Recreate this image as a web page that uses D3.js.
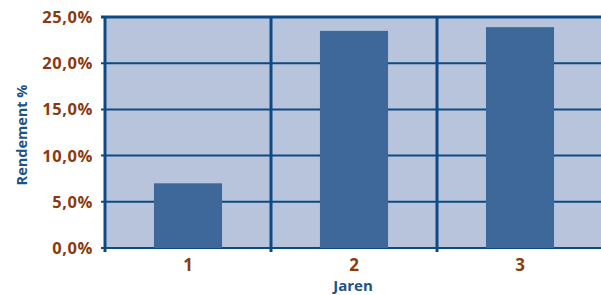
<!DOCTYPE html>
<html>
<head>
<meta charset="utf-8">
<script src="https://cdn.jsdelivr.net/npm/d3@7"></script>
<style>
body { margin: 0; background: #fff; }
svg { display: block; }
text { font-family: "Open Sans", sans-serif; font-weight: bold; }
</style>
</head>
<body>
<script>
var categories = ['1', '2', '3'];
var values = [7.0, 23.5, 23.9];
var yTicks = [0, 5, 10, 15, 20, 25];

var width = 601, height = 295;
var margin = {top: 17, right: -2, bottom: 47, left: 105};
var plotW = width - margin.left - margin.right;
var plotH = height - margin.top - margin.bottom;

var svg = d3.select('body').append('svg')
	.attr('width', width)
	.attr('height', height);

var x = d3.scaleBand().domain(categories).range([0, plotW]).padding(0);
var y = d3.scaleLinear().domain([0, 25]).range([plotH, 0]);

var lineColor = '#0d4a85';
var g = svg.append('g').attr('transform', 'translate(' + margin.left + ',' + margin.top + ')');

// plot background
g.append('rect')
	.attr('x', 0).attr('y', 0)
	.attr('width', plotW).attr('height', plotH)
	.style('fill', '#b8c4dc');

// horizontal grid
g.selectAll('.hgrid').data(yTicks).enter().append('line')
	.attr('x1', -4).attr('x2', plotW)
	.attr('y1', function(d){ return y(d); })
	.attr('y2', function(d){ return y(d); })
	.attr('stroke', lineColor)
	.attr('stroke-width', function(d){ return d == 25 ? 3 : 2; });

// bars
var barW = x.bandwidth() * 0.41;
g.selectAll('.bar').data(values).enter().append('rect')
	.attr('x', function(d, i){ return x(categories[i]) + (x.bandwidth() - barW)/2; })
	.attr('y', function(d){ return y(d); })
	.attr('width', barW)
	.attr('height', function(d){ return y(0) - y(d); })
	.style('fill', '#3d6899');

// vertical separators + left axis
var seps = [0].concat(categories.slice(1).map(function(c){ return x(c); }));
g.selectAll('.vsep').data(seps).enter().append('line')
	.attr('x1', function(d){ return d; })
	.attr('x2', function(d){ return d; })
	.attr('y1', 0).attr('y2', plotH + 4)
	.attr('stroke', lineColor)
	.attr('stroke-width', 3);

// y tick labels
g.selectAll('.ylab').data(yTicks).enter().append('text')
	.attr('x', -12)
	.attr('y', function(d){ return y(d); })
	.attr('dy', '0.36em')
	.attr('text-anchor', 'end')
	.style('fill', '#8b3a0f')
	.style('font-size', '16.5px')
	.style('letter-spacing', '0.6px')
	.text(function(d){ return d.toFixed(1).replace('.', ',') + '%'; });

// x tick labels
g.selectAll('.xlab').data(categories).enter().append('text')
	.attr('x', function(d){ return x(d) + x.bandwidth()/2; })
	.attr('y', plotH + 23)
	.attr('text-anchor', 'middle')
	.style('fill', '#8b3a0f')
	.style('font-size', '17px')
	.text(function(d){ return d; });

// axis titles
svg.append('text')
	.attr('x', 353).attr('y', 291)
	.attr('text-anchor', 'middle')
	.style('fill', '#1d5289')
	.style('font-size', '15px')
	.text('Jaren');

svg.append('text')
	.attr('transform', 'translate(27,135) rotate(-90)')
	.attr('text-anchor', 'middle')
	.style('fill', '#1d5289')
	.style('font-size', '14.5px')
	.text('Rendement %');
</script>
</body>
</html>
